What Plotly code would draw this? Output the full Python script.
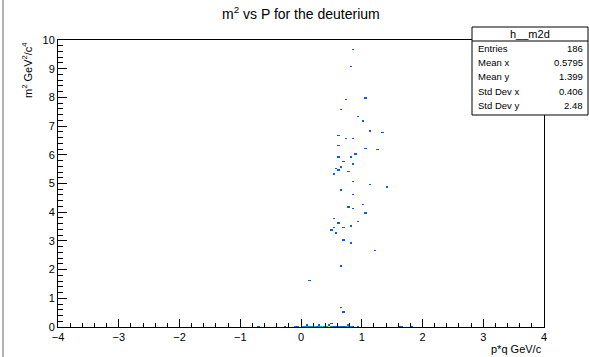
import numpy as np
import plotly.graph_objects as go

# ---- data: filled bins of the 2D histogram (p*q, m^2, counts) ----
pts_x = [0.87, 0.83, 1.06, 0.75, 0.65, 0.93, 1.03, 1.15, 1.33, 0.63, 0.75, 0.85, 0.63, 1.07, 1.25,
         0.89, 0.63, 0.83, 0.72, 0.86, 0.68, 0.60, 0.63, 0.78, 0.55, 0.86, 1.15, 1.43, 0.68, 0.87,
         0.78, 0.86, 1.03, 1.06, 0.55, 0.95, 0.63, 0.80, 0.53, 0.72, 0.48, 0.60, 0.71, 0.80, 1.22,
         0.65, 0.13, 0.65, 0.72]
pts_y = [9.70, 9.05, 7.99, 7.92, 7.59, 7.30, 7.15, 6.85, 6.78, 6.65, 6.56, 6.56, 6.34, 6.21, 6.15,
         6.05, 5.90, 5.93, 5.75, 5.68, 5.58, 5.55, 5.49, 5.40, 5.34, 5.10, 4.97, 4.89, 4.75, 4.62,
         4.19, 4.13, 4.29, 3.98, 3.75, 3.69, 3.60, 3.54, 3.47, 3.47, 3.38, 3.29, 3.03, 2.94, 2.67,
         2.14, 1.63, 0.68, 0.53]
pts_n = [1] * len(pts_x)

band_x = [-0.72, -0.26, -0.10, -0.06, 0.02, 0.06, 0.10, 0.14, 0.18, 0.22, 0.26, 0.30, 0.34, 0.38,
          0.42, 0.46, 0.50, 0.54, 0.58, 0.62, 0.66, 0.70, 0.74, 0.78, 0.82, 0.86, 0.94, 1.62, 1.66, 1.82,
          0.10, 0.30, 0.46, 0.78, 0.52]
band_y = [0.02] * 30 + [0.07] * 4 + [0.12]
band_n = [1, 1, 2, 1, 2, 2, 3, 2, 3, 4, 2, 3, 4, 3, 3, 8, 2, 1, 1, 2, 1, 1, 2, 3, 2, 1, 1, 1, 1, 1,
          1, 1, 1, 2, 1]

stats_labels = ["Entries", "Mean x", "Mean y", "Std Dev x", "Std Dev y"]
stats_values = ["186", "0.5795", "1.399", "0.406", "2.48"]

# ---- histogram binning ----
NX, XMIN, XMAX = 200, -4.0, 4.0
NY, YMIN, YMAX = 200, 0.0, 10.0
dx = (XMAX - XMIN) / NX
dy = (YMAX - YMIN) / NY
z = np.zeros((NY, NX))
for xs, ys, ns in [(pts_x, pts_y, pts_n), (band_x, band_y, band_n)]:
    for x, y, n in zip(xs, ys, ns):
        i = int((x - XMIN) / dx)
        j = int((y - YMIN) / dy)
        z[j, i] += n
zmax = z.max()
zplot = np.where(z > 0, z, np.nan)

stops = [0, .125, .25, .375, .5, .625, .75, .875, 1]
red = [0.2082, 0.0592, 0.0780, 0.0232, 0.1802, 0.5301, 0.8186, 0.9956, 0.9764]
green = [0.1664, 0.3599, 0.5041, 0.6419, 0.7178, 0.7492, 0.7328, 0.7862, 0.9832]
blue = [0.5293, 0.8684, 0.8385, 0.7914, 0.6425, 0.4662, 0.3499, 0.1968, 0.0539]
bird = [[s, "rgb(%d,%d,%d)" % (r * 255, g * 255, b * 255)] for s, r, g, b in zip(stops, red, green, blue)]

fig = go.Figure(go.Heatmap(
    z=zplot, x0=XMIN + dx / 2, dx=dx, y0=YMIN + dy / 2, dy=dy,
    colorscale=bird, zmin=0, zmax=zmax, showscale=False, hoverongaps=False,
))

W, H = 589, 357
L, R, T, B = 58, 45, 40, 30
pw, ph = W - L - R, H - T - B


def px_x(p):
    return (p - L) / pw


def px_y(p):
    return (H - B - p) / ph


FONT = "Liberation Sans, Arial, Helvetica, sans-serif"

fig.update_layout(
    width=W, height=H, margin=dict(l=L, r=R, t=T, b=B),
    paper_bgcolor="white", plot_bgcolor="white",
    font=dict(family=FONT, color="black", size=11),
    xaxis=dict(range=[XMIN, XMAX], dtick=1, tick0=0, ticks="inside", ticklen=8, tickcolor="black",
               showline=True, linecolor="black", linewidth=1, mirror=True, showgrid=False,
               zeroline=False, tickfont=dict(size=11), ticklabelstandoff=0,
               minor=dict(dtick=0.2, ticks="inside", ticklen=4, tickcolor="black", showgrid=False)),
    yaxis=dict(range=[YMIN, YMAX], dtick=1, tick0=0, ticks="inside", ticklen=9, tickcolor="black",
               showline=True, linecolor="black", linewidth=1, mirror=True, showgrid=False,
               zeroline=False, tickfont=dict(size=11),
               minor=dict(dtick=0.2, ticks="inside", ticklen=5, tickcolor="black", showgrid=False)),
    showlegend=False,
)

ann = []
ann.append(dict(text="m<sup>2</sup> vs P for the deuterium", xref="paper", yref="paper",
                x=px_x(301), y=px_y(13), xanchor="center", yanchor="middle", showarrow=False,
                font=dict(size=14)))
ann.append(dict(text="m<sup>2</sup> GeV<sup>2</sup>/c<sup>4</sup>", xref="paper", yref="paper",
                x=px_x(27), y=1.0, xanchor="center", yanchor="top", textangle=-90, showarrow=False,
                font=dict(size=11)))
ann.append(dict(text="p*q GeV/c", xref="paper", yref="paper", x=1.0, y=px_y(349),
                xanchor="right", yanchor="middle", showarrow=False, font=dict(size=11)))

# stats box
bx0, bx1, by0, by1, bsep = 472, 588, 27, 115, 41
shapes = [
    dict(type="rect", xref="paper", yref="paper", x0=px_x(bx0), x1=px_x(bx1), y0=px_y(by1), y1=px_y(by0),
         line=dict(color="black", width=1), fillcolor="white", layer="above"),
    dict(type="line", xref="paper", yref="paper", x0=px_x(bx0), x1=px_x(bx1), y0=px_y(bsep), y1=px_y(bsep),
         line=dict(color="black", width=1), layer="above"),
    dict(type="line", xref="paper", yref="paper", x0=px_x(3), x1=px_x(3), y0=px_y(H), y1=px_y(0),
         line=dict(color="#9a9a9a", width=1.5), layer="above"),
]
ann.append(dict(text="h__m2d", xref="paper", yref="paper", x=px_x((bx0 + bx1) / 2), y=px_y(34),
                xanchor="center", yanchor="middle", showarrow=False, font=dict(size=11)))
row_y = [49, 62, 76, 91, 105]
for lab, val, ry in zip(stats_labels, stats_values, row_y):
    ann.append(dict(text=lab, xref="paper", yref="paper", x=px_x(476), y=px_y(ry),
                    xanchor="left", yanchor="middle", showarrow=False, font=dict(size=9.5)))
    ann.append(dict(text=val, xref="paper", yref="paper", x=px_x(585), y=px_y(ry),
                    xanchor="right", yanchor="middle", showarrow=False, font=dict(size=9.5)))

fig.update_layout(annotations=ann, shapes=shapes)
fig.write_html("out.html")
